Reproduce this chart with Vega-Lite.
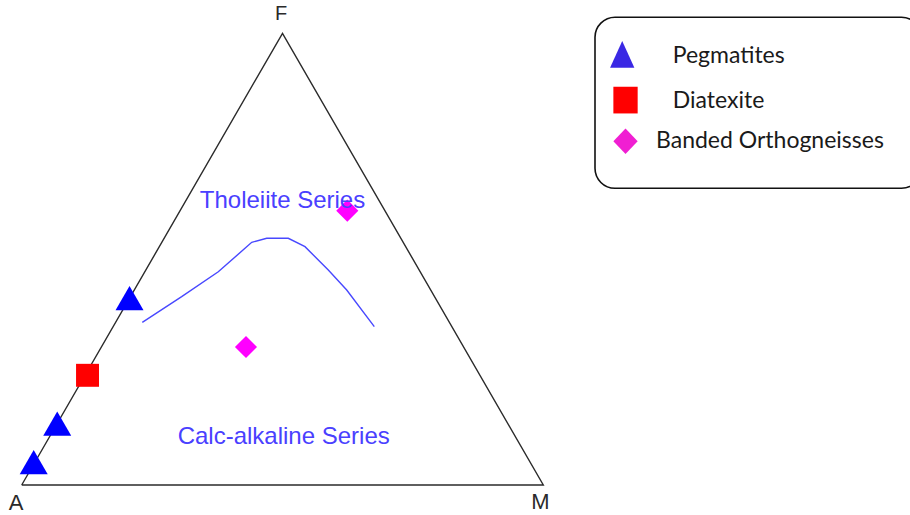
{
  "$schema": "https://vega.github.io/schema/vega-lite/v6.json",
  "width": 910,
  "height": 515,
  "autosize": {"type": "fit", "contains": "padding"},
  "padding": 0,
  "background": "white",
  "config": {"view": {"stroke": null}},
  "datasets": {
    "frame": [
      {"vertex": "A", "x": 0, "y": 0, "o": 0},
      {"vertex": "F", "x": 50, "y": 86.6, "o": 1},
      {"vertex": "M", "x": 100, "y": 0, "o": 2},
      {"vertex": "A", "x": 0, "y": 0, "o": 3}
    ],
    "boundary": [
      {"x": 23.12, "y": 31.19, "o": 0},
      {"x": 30.67, "y": 36.10, "o": 1},
      {"x": 37.69, "y": 40.89, "o": 2},
      {"x": 42.81, "y": 45.38, "o": 3},
      {"x": 44.10, "y": 46.53, "o": 4},
      {"x": 46.97, "y": 47.30, "o": 5},
      {"x": 51.11, "y": 47.30, "o": 6},
      {"x": 54.31, "y": 45.69, "o": 7},
      {"x": 58.78, "y": 41.22, "o": 8},
      {"x": 62.31, "y": 37.38, "o": 9},
      {"x": 67.60, "y": 30.35, "o": 10}
    ],
    "samples": [
      {"group": "Pegmatites", "x": 20.67, "y": 35.85},
      {"group": "Pegmatites", "x": 6.81, "y": 11.75},
      {"group": "Pegmatites", "x": 2.30, "y": 4.41},
      {"group": "Diatexite", "x": 12.62, "y": 21.03},
      {"group": "Banded Orthogneisses", "x": 62.42, "y": 52.59},
      {"group": "Banded Orthogneisses", "x": 43.0, "y": 26.46}
    ],
    "regions": [
      {"label": "Tholeiite Series", "x": 50.0, "y": 53.2},
      {"label": "Calc-alkaline Series", "x": 50.23, "y": 7.8}
    ],
    "vertices": [
      {"label": "F", "x": 49.71, "y": 90.3},
      {"label": "A", "x": -1.09, "y": -3.5},
      {"label": "M", "x": 99.46, "y": -3.2}
    ],
    "legendbox": [
      {"x": 109.91, "x2": 172.5, "y": 89.67, "y2": 56.88}
    ],
    "legend": [
      {"group": "Pegmatites", "sx": 115.13, "sy": 82.57, "tx": 124.81, "ty": 80.85},
      {"group": "Diatexite", "sx": 115.76, "sy": 73.79, "tx": 124.81, "ty": 72.22},
      {"group": "Banded Orthogneisses", "sx": 115.76, "sy": 65.91, "tx": 121.61, "ty": 64.55}
    ]
  },
  "resolve": {"scale": {"color": "independent", "shape": "independent"}},
  "layer": [
    {
      "data": {"name": "frame"},
      "mark": {"type": "line", "color": "#2b2b2b", "strokeWidth": 1.4},
      "encoding": {
        "x": {"field": "x", "type": "quantitative", "scale": {"domain": [-4.16, 170.3], "nice": false, "zero": false}, "axis": null},
        "y": {"field": "y", "type": "quantitative", "scale": {"domain": [-5.75, 92.98], "nice": false, "zero": false}, "axis": null},
        "order": {"field": "o", "type": "quantitative"}
      }
    },
    {
      "data": {"name": "boundary"},
      "mark": {"type": "line", "color": "#4848ff", "strokeWidth": 1.4},
      "encoding": {
        "x": {"field": "x", "type": "quantitative"},
        "y": {"field": "y", "type": "quantitative"},
        "order": {"field": "o", "type": "quantitative"}
      }
    },
    {
      "data": {"name": "samples"},
      "mark": {"type": "point", "filled": true, "opacity": 1, "size": 784, "strokeWidth": 0},
      "encoding": {
        "x": {"field": "x", "type": "quantitative"},
        "y": {"field": "y", "type": "quantitative"},
        "shape": {"field": "group", "type": "nominal", "legend": null,
          "scale": {"domain": ["Pegmatites", "Diatexite", "Banded Orthogneisses"],
            "range": ["M0,-0.866L1,0.866L-1,0.866Z", "M-0.82,-0.82L0.82,-0.82L0.82,0.82L-0.82,0.82Z", "M-0.79,0L0,-0.79L0.79,0L0,0.79Z"]}},
        "color": {"field": "group", "type": "nominal", "legend": null,
          "scale": {"domain": ["Pegmatites", "Diatexite", "Banded Orthogneisses"], "range": ["#0000ff", "#ff0000", "#ff00ff"]}}
      }
    },
    {
      "data": {"name": "regions"},
      "mark": {"type": "text", "font": "Liberation Sans", "fontSize": 24, "color": "#4a40ff", "align": "center", "baseline": "alphabetic"},
      "encoding": {
        "x": {"field": "x", "type": "quantitative"},
        "y": {"field": "y", "type": "quantitative"},
        "text": {"field": "label"}
      }
    },
    {
      "data": {"name": "vertices"},
      "transform": [{"filter": "datum.label === 'F'"}],
      "mark": {"type": "text", "font": "Liberation Sans", "fontSize": 20, "color": "#2a2a2a", "align": "center", "baseline": "middle"},
      "encoding": {
        "x": {"field": "x", "type": "quantitative"},
        "y": {"field": "y", "type": "quantitative"},
        "text": {"field": "label"}
      }
    },
    {
      "data": {"name": "vertices"},
      "transform": [{"filter": "datum.label !== 'F'"}],
      "mark": {"type": "text", "font": "Liberation Sans", "fontSize": 22, "color": "#2a2a2a", "align": "center", "baseline": "middle"},
      "encoding": {
        "x": {"field": "x", "type": "quantitative"},
        "y": {"field": "y", "type": "quantitative"},
        "text": {"field": "label"}
      }
    },
    {
      "data": {"name": "legendbox"},
      "mark": {"type": "rect", "fill": "white", "stroke": "#111111", "strokeWidth": 1.6, "cornerRadius": 20, "clip": true},
      "encoding": {
        "x": {"field": "x", "type": "quantitative"},
        "x2": {"field": "x2"},
        "y": {"field": "y", "type": "quantitative"},
        "y2": {"field": "y2"}
      }
    },
    {
      "data": {"name": "legend"},
      "mark": {"type": "point", "filled": true, "opacity": 1, "size": 713, "strokeWidth": 0},
      "encoding": {
        "x": {"field": "sx", "type": "quantitative"},
        "y": {"field": "sy", "type": "quantitative"},
        "shape": {"field": "group", "type": "nominal", "legend": null,
          "scale": {"domain": ["Pegmatites", "Diatexite", "Banded Orthogneisses"],
            "range": ["M0,-1L0.91,1L-0.91,1Z", "M-0.91,-1L0.91,-1L0.91,1L-0.91,1Z", "M-0.91,0L0,-0.96L0.91,0L0,0.96Z"]}},
        "color": {"field": "group", "type": "nominal", "legend": null,
          "scale": {"domain": ["Pegmatites", "Diatexite", "Banded Orthogneisses"], "range": ["#3a28e4", "#ff0000", "#f01fd2"]}}
      }
    },
    {
      "data": {"name": "legend"},
      "mark": {"type": "text", "font": "Lato", "fontSize": 23, "color": "#1a1a1a", "align": "left", "baseline": "alphabetic"},
      "encoding": {
        "x": {"field": "tx", "type": "quantitative"},
        "y": {"field": "ty", "type": "quantitative"},
        "text": {"field": "group"}
      }
    }
  ]
}
